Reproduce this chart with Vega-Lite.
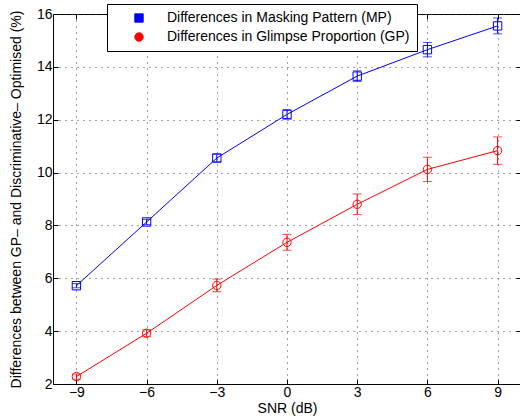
{
  "$schema": "https://vega.github.io/schema/vega-lite/v6.json",
  "autosize": {"type": "none"},
  "width": 468,
  "height": 370,
  "padding": {"left": 53, "top": 14, "right": 0, "bottom": 34},
  "background": "white",
  "config": {
    "font": "Liberation Sans",
    "view": {"stroke": "black", "strokeWidth": 1},
    "axis": {
      "labelFontSize": 14, "labelColor": "black", "titleFontSize": 14, "titleFontWeight": "normal", "titleColor": "black",
      "domainColor": "black", "tickColor": "black", "tickSize": -5, "gridColor": "#444", "gridDash": [1, 5], "gridOpacity": 1
    },
    "legend": {
      "title": null, "orient": "none", "legendX": 54, "legendY": -10,
      "strokeColor": "black", "fillColor": "white", "padding": 7, "rowPadding": 5,
      "labelFontSize": 14, "labelColor": "black", "labelOffset": 21, "labelLimit": 400,
      "symbolSize": 70, "symbolStrokeWidth": 1, "symbolOffset": 18, "symbolFillColor": "transparent"
    }
  },
  "data": {"values": [
    {"snr": -9, "val": 5.72, "err": 0.08, "series": "Differences in Masking Pattern (MP)"},
    {"snr": -6, "val": 8.13, "err": 0.1, "series": "Differences in Masking Pattern (MP)"},
    {"snr": -3, "val": 10.55, "err": 0.14, "series": "Differences in Masking Pattern (MP)"},
    {"snr": 0, "val": 12.2, "err": 0.18, "series": "Differences in Masking Pattern (MP)"},
    {"snr": 3, "val": 13.65, "err": 0.2, "series": "Differences in Masking Pattern (MP)"},
    {"snr": 6, "val": 14.65, "err": 0.27, "series": "Differences in Masking Pattern (MP)"},
    {"snr": 9, "val": 15.55, "err": 0.3, "series": "Differences in Masking Pattern (MP)"},
    {"snr": -9, "val": 2.28, "err": 0.1, "series": "Differences in Glimpse Proportion (GP)"},
    {"snr": -6, "val": 3.92, "err": 0.13, "series": "Differences in Glimpse Proportion (GP)"},
    {"snr": -3, "val": 5.73, "err": 0.24, "series": "Differences in Glimpse Proportion (GP)"},
    {"snr": 0, "val": 7.36, "err": 0.3, "series": "Differences in Glimpse Proportion (GP)"},
    {"snr": 3, "val": 8.8, "err": 0.39, "series": "Differences in Glimpse Proportion (GP)"},
    {"snr": 6, "val": 10.12, "err": 0.46, "series": "Differences in Glimpse Proportion (GP)"},
    {"snr": 9, "val": 10.83, "err": 0.52, "series": "Differences in Glimpse Proportion (GP)"}
  ]},
  "resolve": {"axis": {"x": "independent", "y": "independent"}},
  "layer": [
    {
      "mark": {"type": "point", "filled": false, "strokeWidth": 1, "opacity": 1},
      "encoding": {
        "x": {"field": "snr", "type": "quantitative", "scale": {"domain": [-10, 10], "nice": false},
              "axis": {"orient": "bottom", "values": [-9, -6, -3, 0, 3, 6, 9], "title": "SNR (dB)", "grid": true, "labelPadding": 6, "titlePadding": 2}},
        "y": {"field": "val", "type": "quantitative", "scale": {"domain": [2, 16], "nice": false, "zero": false},
              "axis": {"orient": "left", "values": [2, 4, 6, 8, 10, 12, 14, 16], "title": "Differences between GP– and Discriminative– Optimised (%)", "grid": true, "labelPadding": 6, "titlePadding": 13}},
        "shape": {"field": "series", "type": "nominal",
                  "scale": {"domain": ["Differences in Masking Pattern (MP)", "Differences in Glimpse Proportion (GP)"], "range": ["square", "circle"]}},
        "size": {"value": 70},
        "color": {"field": "series", "type": "nominal",
                  "scale": {"domain": ["Differences in Masking Pattern (MP)", "Differences in Glimpse Proportion (GP)"], "range": ["#0000ff", "#ff0000"]}}
      }
    },
    {
      "mark": {"type": "errorbar", "ticks": true, "size": 9, "thickness": 1},
      "encoding": {
        "x": {"field": "snr", "type": "quantitative", "axis": null},
        "y": {"field": "val", "type": "quantitative", "axis": null},
        "yError": {"field": "err"},
        "color": {"field": "series", "type": "nominal"}
      }
    },
    {
      "mark": {"type": "line", "strokeWidth": 1},
      "encoding": {
        "x": {"field": "snr", "type": "quantitative",
              "axis": {"orient": "top", "values": [-9, -6, -3, 0, 3, 6, 9], "title": null, "labels": false, "grid": false, "domain": false}},
        "y": {"field": "val", "type": "quantitative",
              "axis": {"orient": "right", "values": [2, 4, 6, 8, 10, 12, 14, 16], "title": null, "labels": false, "grid": false, "domain": false}},
        "color": {"field": "series", "type": "nominal"}
      }
    }
  ]
}
